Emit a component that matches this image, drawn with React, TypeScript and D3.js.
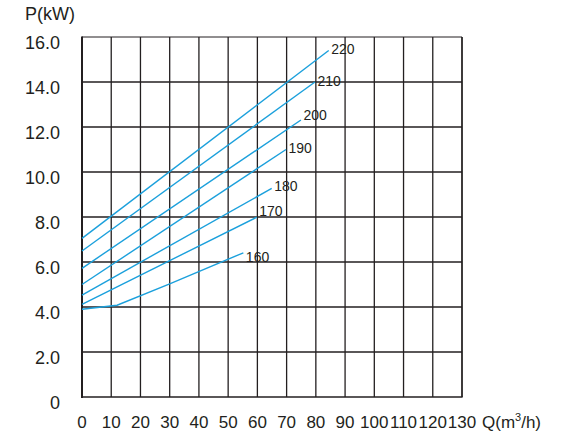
import * as d3 from "d3";

// axis ticks
const flowTicks = [0, 10, 20, 30, 40, 50, 60, 70, 80, 90, 100, 110, 120, 130];
const powerTicks = [0, 2, 4, 6, 8, 10, 12, 14, 16];

// one curve per impeller diameter, [Q (m3/h), P (kW)]
const curveNames = ["220", "210", "200", "190", "180", "170", "160"];
const curve220: [number, number][] = [[0, 7.05], [84.4, 15.4]];
const curve210: [number, number][] = [[0, 6.49], [79.7, 14.0]];
const curve200: [number, number][] = [[0, 5.72], [74.9, 12.31]];
const curve190: [number, number][] = [[0, 5.0], [69.8, 11.0]];
const curve180: [number, number][] = [[0, 4.53], [64.9, 9.27]];
const curve170: [number, number][] = [[0, 4.12], [59.8, 7.99]];
const curve160: [number, number][] = [[0, 3.9], [12, 4.08], [30, 5.03], [55.2, 6.41]];
const curves = [curve220, curve210, curve200, curve190, curve180, curve170, curve160];

// small vertical nudges for the end labels (px)
const labelNudge = [0, 0, -4, 0, -1, -5, 6];

const W = 574;
const H = 437;
const plot = { left: 82, right: 462, top: 37, bottom: 397 };
const ink = "#231f20";
const blue = "#1ba0dc";
const font = "'Liberation Sans', Arial, sans-serif";

export default function App() {
  const x = d3.scaleLinear().domain([0, 130]).range([plot.left, plot.right]);
  const y = d3.scaleLinear().domain([0, 16]).range([plot.bottom, plot.top]);
  const line = d3
    .line<[number, number]>()
    .x((d) => x(d[0]))
    .y((d) => y(d[1]));

  return (
    <svg
      width={W}
      height={H}
      style={{ position: "absolute", left: 0, top: 0, background: "#fff" }}
      fontFamily={font}
    >
      {/* grid */}
      {flowTicks.slice(1).concat([130]).map((t, i) => (
        <line key={"vx" + i} x1={x(t)} x2={x(t)} y1={plot.top} y2={plot.bottom} stroke={ink} strokeWidth={1.3} />
      ))}
      {powerTicks.slice(1).map((t) => (
        <line key={"hy" + t} x1={plot.left} x2={plot.right} y1={y(t)} y2={y(t)} stroke={ink} strokeWidth={t === 16 ? 1 : 1.3} />
      ))}
      <line x1={plot.left} x2={plot.left} y1={plot.top - 0.5} y2={plot.bottom + 1} stroke={ink} strokeWidth={2} />
      <line x1={plot.left} x2={plot.right + 0.6} y1={plot.bottom} y2={plot.bottom} stroke={ink} strokeWidth={1.6} />

      {/* y tick labels */}
      {powerTicks.map((t) => (
        <text key={"yl" + t} x={60} y={y(t) + 11.5} textAnchor="end" fontSize={18} fill={ink}>
          {t === 0 ? "0" : t.toFixed(1)}
        </text>
      ))}
      <text x={25} y={20} fontSize={18} fill={ink}>
        P(kW)
      </text>

      {/* x tick labels */}
      {flowTicks.map((t) => (
        <text key={"xl" + t} x={x(t)} y={428} textAnchor="middle" fontSize={17} fill={ink}>
          {t}
        </text>
      ))}
      <text x={482} y={428} fontSize={17} fill={ink}>
        Q(m<tspan fontSize={11} dy={-7}>3</tspan>
        <tspan dy={7}>/h)</tspan>
      </text>

      {/* curves */}
      {curves.map((c, i) => {
        const end = c[c.length - 1];
        return (
          <g key={curveNames[i]}>
            <path d={line(c) || ""} fill="none" stroke={blue} strokeWidth={1.4} />
            <text
              x={x(end[0]) + 2.5}
              y={y(end[1]) + labelNudge[i]}
              dominantBaseline="middle"
              fontSize={14}
              fill={ink}
            >
              {curveNames[i]}
            </text>
          </g>
        );
      })}
    </svg>
  );
}
